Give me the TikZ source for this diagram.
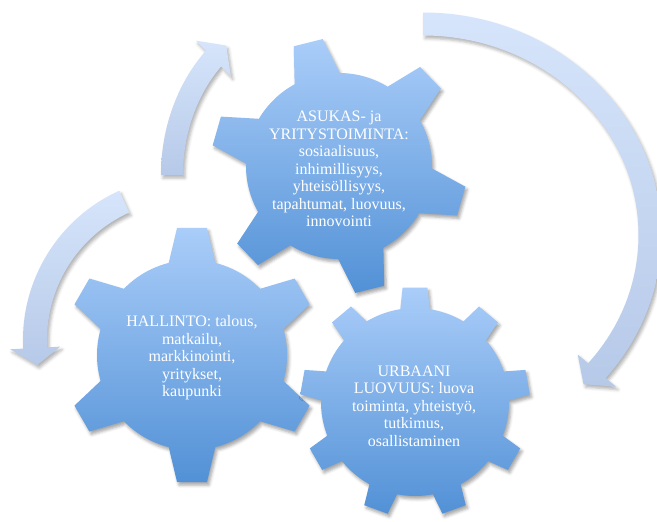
\documentclass[tikz,border=0pt]{standalone}
\usepackage{fontspec}
\setmainfont{Liberation Serif}
\usetikzlibrary{shadows.blur}
\definecolor{gearTop}{RGB}{170,205,249}
\definecolor{gearBottom}{RGB}{82,145,214}
\definecolor{arrowTop}{RGB}{214,229,251}
\definecolor{arrowBottom}{RGB}{182,201,232}
\tikzset{
	gear/.style={top color=gearTop,bottom color=gearBottom,blur shadow={shadow xshift=2pt,shadow yshift=-3pt,shadow blur radius=3pt,shadow opacity=35}},
	cycle arrow/.style={top color=arrowTop,bottom color=arrowBottom,blur shadow={shadow xshift=2pt,shadow yshift=-3pt,shadow blur radius=3pt,shadow opacity=30}},
	gear text/.style={text=white,align=center,font=\fontsize{16}{17.5}\selectfont}
}
\begin{document}
\begin{tikzpicture}[x=1pt,y=-1pt]
	\useasboundingbox (0,0) rectangle (657,522); %page
	
	%arrows-----------------------------------------------
	\begin{scope}[shift={(423,235)}] %big right arrow
	\path[cycle arrow] (-90:238.5 and 222.5) arc[start angle=-90,end angle=40,x radius=238.5,y radius=222.5] -- (40:252 and 236) -- (45:227 and 211) -- (40:202 and 186) -- (40:215.5 and 199.5) arc[start angle=40,end angle=-90,x radius=215.5,y radius=199.5] -- cycle;
	\end{scope}
	\begin{scope}[shift={(187,340)}] %left arrow
	\path[cycle arrow] (245.6:164) arc[start angle=245.6,end angle=177,radius=164] -- (177:177) -- (170.5:152) -- (177:127) -- (177:140) arc[start angle=177,end angle=245.6,radius=140] -- cycle;
	\end{scope}
	\begin{scope}[shift={(310,175)}] %small top arrow
	\path[cycle arrow] (180:149 and 174) arc[start angle=180,end angle=225.6,x radius=149,y radius=174] -- (225.6:163 and 188) -- (232.6:138 and 163) -- (225.6:113 and 138) -- (225.6:127 and 152) arc[start angle=225.6,end angle=180,x radius=127,y radius=152] -- cycle;
	\end{scope}
	
	%gears------------------------------------------------
	\begin{scope}[shift={(192,355)}] %hallinto gear, 6 teeth
	\path[gear] (-135.8:95) \foreach \a in {-90,-30,...,210} {arc[start angle=\a-45.8,end angle=\a-14.2,radius=95] -- (\a-6.7:128) -- (\a+6.7:128) -- (\a+14.2:95)} -- cycle;
	\end{scope}
	\begin{scope}[shift={(415,402)}] %urbaani gear, 9 teeth
	\path[gear] (-121:94) \foreach \a in {-90,-50,...,230} {arc[start angle=\a-31,end angle=\a-9,radius=94] -- (\a-6.2:115) -- (\a+6.2:115) -- (\a+9:94)} -- cycle;
	\end{scope}
	\begin{scope}[shift={(339,166)}] %asukas gear, 6 teeth
	\path[gear] (-149.5:93) \foreach \a in {-104,-44,...,196} {arc[start angle=\a-45.5,end angle=\a-14.5,radius=93] -- (\a-6.7:128) -- (\a+6.7:128) -- (\a+14.5:93)} -- cycle;
	\end{scope}
	
	%texts
	\node[gear text] (hallinto) at (192,358) {HALLINTO: talous,\\matkailu,\\markkinointi,\\yritykset,\\kaupunki}; %hallinto
	\node[gear text] (asukas) at (339,169) {ASUKAS- ja\\YRITYSTOIMINTA:\\sosiaalisuus,\\inhimillisyys,\\yhteisöllisyys,\\tapahtumat, luovuus,\\innovointi}; %asukas
	\node[gear text] (urbaani) at (414,406) {URBAANI\\LUOVUUS: luova\\toiminta, yhteistyö,\\tutkimus,\\osallistaminen}; %urbaani
\end{tikzpicture}
\end{document}
